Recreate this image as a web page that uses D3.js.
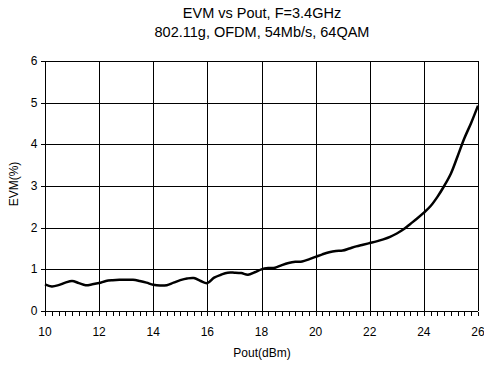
<!DOCTYPE html>
<html>
<head>
<meta charset="utf-8">
<script src="https://cdn.jsdelivr.net/npm/d3@7"></script>
<style>
  body { margin: 0; background: #fff; }
  svg { display: block; font-family: "Liberation Sans", Arial, sans-serif; }
  .grid line { stroke: #000; stroke-width: 1; shape-rendering: crispEdges; }
</style>
</head>
<body>
<svg id="chart" width="484" height="365"></svg>
<script>
// Pout (dBm) sample points and measured EVM (%)
var pout = [10, 10.25, 10.5, 10.75, 11, 11.25, 11.5, 11.75, 12, 12.25, 12.5, 12.75,
  13, 13.25, 13.5, 13.75, 14, 14.25, 14.5, 14.75, 15, 15.25, 15.5, 15.75,
  16, 16.25, 16.5, 16.75, 17, 17.25, 17.5, 17.75, 18, 18.25, 18.5, 18.75,
  19, 19.25, 19.5, 19.75, 20, 20.25, 20.5, 20.75, 21, 21.25, 21.5, 21.75,
  22, 22.25, 22.5, 22.75, 23, 23.25, 23.5, 23.75, 24, 24.25, 24.5, 24.75,
  25, 25.25, 25.5, 25.75, 26];
var evm = [0.64, 0.59, 0.62, 0.68, 0.72, 0.67, 0.62, 0.64, 0.67, 0.72, 0.74, 0.75,
  0.75, 0.75, 0.72, 0.68, 0.63, 0.61, 0.62, 0.68, 0.74, 0.78, 0.79, 0.72,
  0.67, 0.80, 0.87, 0.92, 0.92, 0.91, 0.87, 0.93, 1.00, 1.03, 1.04, 1.10,
  1.15, 1.18, 1.19, 1.24, 1.30, 1.36, 1.41, 1.44, 1.45, 1.50, 1.55, 1.59,
  1.63, 1.67, 1.72, 1.78, 1.86, 1.96, 2.09, 2.22, 2.36, 2.52, 2.74, 3.00,
  3.30, 3.72, 4.15, 4.52, 4.93];

var xTicks = [10, 12, 14, 16, 18, 20, 22, 24, 26];
var yTicks = [0, 1, 2, 3, 4, 5, 6];

var titleLines = ["EVM vs Pout, F=3.4GHz", "802.11g, OFDM, 54Mb/s, 64QAM"];
var xLabel = "Pout(dBm)";
var yLabel = "EVM(%)";

var margin = {left: 45, right: 6, top: 61, bottom: 54};
var svg = d3.select("#chart");
var W = +svg.attr("width"), H = +svg.attr("height");

var x = d3.scaleLinear().domain([10, 26]).range([margin.left, W - margin.right]);
var y = d3.scaleLinear().domain([0, 6]).range([H - margin.bottom, margin.top]);

var snap = function(v) { return Math.round(v) + 0.5; };

// gridlines
var grid = svg.append("g").attr("class", "grid");
grid.selectAll("line.v").data(xTicks.slice(1)).enter().append("line")
    .attr("x1", function(d) { return snap(x(d)); })
    .attr("x2", function(d) { return snap(x(d)); })
    .attr("y1", y(6)).attr("y2", y(0));
grid.selectAll("line.h").data(yTicks.slice(1)).enter().append("line")
    .attr("x1", x(10)).attr("x2", x(26))
    .attr("y1", function(d) { return snap(y(d)); })
    .attr("y2", function(d) { return snap(y(d)); });

// x axis with minor ticks every 0.25
var minor = d3.range(10, 26.001, 0.25);
var xAxis = svg.append("g").attr("transform", "translate(0," + snap(y(0)) + ")");
xAxis.append("line").attr("x1", x(10)).attr("x2", x(26))
    .attr("stroke", "#000").attr("shape-rendering", "crispEdges");
xAxis.selectAll("line.tick").data(minor).enter().append("line")
    .attr("x1", function(d) { return snap(x(d)); })
    .attr("x2", function(d) { return snap(x(d)); })
    .attr("y1", 0).attr("y2", 4)
    .attr("stroke", "#000").attr("shape-rendering", "crispEdges");
xAxis.selectAll("text").data(xTicks).enter().append("text")
    .attr("x", function(d) { return x(d); })
    .attr("y", 24)
    .attr("text-anchor", "middle")
    .attr("font-size", 12)
    .text(function(d) { return d; });

// y axis
var yAxis = svg.append("g").attr("transform", "translate(" + snap(x(10)) + ",0)");
yAxis.append("line").attr("y1", y(0)).attr("y2", y(6))
    .attr("stroke", "#000").attr("shape-rendering", "crispEdges");
yAxis.selectAll("line.tick").data(yTicks).enter().append("line")
    .attr("x1", -5).attr("x2", 0)
    .attr("y1", function(d) { return snap(y(d)); })
    .attr("y2", function(d) { return snap(y(d)); })
    .attr("stroke", "#000").attr("shape-rendering", "crispEdges");
yAxis.selectAll("text").data(yTicks).enter().append("text")
    .attr("x", -8)
    .attr("y", function(d) { return y(d) + 4; })
    .attr("text-anchor", "end")
    .attr("font-size", 12)
    .text(function(d) { return d; });

// curve
var line = d3.line()
    .x(function(d, i) { return x(pout[i]); })
    .y(function(d) { return y(d); })
    .curve(d3.curveCatmullRom);
svg.append("path").datum(evm)
    .attr("d", line)
    .attr("fill", "none")
    .attr("stroke", "#000")
    .attr("stroke-width", 2.5)
    .attr("stroke-linejoin", "round");

// titles
svg.selectAll("text.title").data(titleLines).enter().append("text")
    .attr("x", 262)
    .attr("y", function(d, i) { return 18 + i * 19; })
    .attr("text-anchor", "middle")
    .attr("font-size", 14.5)
    .text(function(d) { return d; });

svg.append("text")
    .attr("x", 262).attr("y", 357)
    .attr("text-anchor", "middle")
    .attr("font-size", 12)
    .text(xLabel);

svg.append("text")
    .attr("transform", "translate(18," + 184 + ") rotate(-90)")
    .attr("text-anchor", "middle")
    .attr("font-size", 12)
    .text(yLabel);
</script>
</body>
</html>
